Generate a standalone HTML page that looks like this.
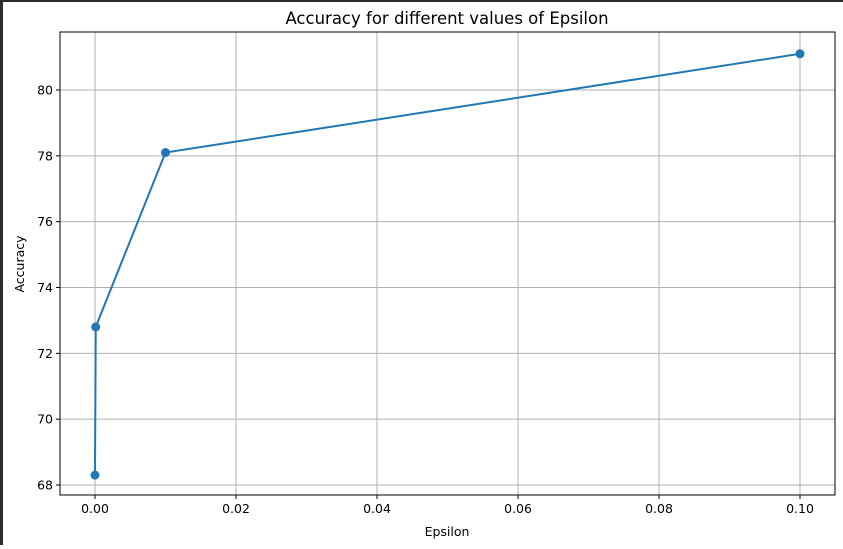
<!DOCTYPE html>
<html><head><meta charset="utf-8"><style>
body{margin:0;width:843px;height:545px;overflow:hidden;background:#fff;font-family:"DejaVu Sans","Liberation Sans",sans-serif}
</style></head><body>
<svg id="c" width="843" height="545" xmlns="http://www.w3.org/2000/svg" font-family="DejaVu Sans, Liberation Sans, sans-serif">
<rect x="0" y="0" width="843" height="545" fill="#fff"/>
<rect x="0" y="0" width="843" height="2" fill="#2b2b2b"/>
<rect x="0" y="0" width="3" height="545" fill="#2b2b2b"/>
<g id="grid"></g>
<g id="series"></g>
<rect x="60" y="32" width="775" height="463" fill="none" stroke="#000" stroke-width="1"/>
<g id="ticks" font-size="12.5" fill="#000"></g>
<text x="447" y="24" text-anchor="middle" font-size="16.5">Accuracy for different values of Epsilon</text>
<text x="447" y="536" text-anchor="middle" font-size="12.5">Epsilon</text>
<text transform="translate(24,264) rotate(-90)" text-anchor="middle" font-size="12.5">Accuracy</text>
</svg>
<script>
const epsilons=[0,0.0001,0.01,0.1];
const accuracies=[68.3,72.8,78.1,81.1];
const xTicks=[0,0.02,0.04,0.06,0.08,0.10];
const xTickLabels=["0.00","0.02","0.04","0.06","0.08","0.10"];
const yTicks=[68,70,72,74,76,78,80];
const yTickLabels=["68","70","72","74","76","78","80"];
const NS="http://www.w3.org/2000/svg";
function sx(v){return 95+(v-0)/0.1*705;}
function sy(v){return 485-(v-68)/12*395;}
function mk(t,a,p){const e=document.createElementNS(NS,t);for(const k in a)e.setAttribute(k,a[k]);p.appendChild(e);return e;}
const grid=document.getElementById('grid'),ticks=document.getElementById('ticks'),ser=document.getElementById('series');
xTicks.forEach((v,i)=>{const x=sx(v);
 const g=mk('line',{x1:x,x2:x,y1:32,y2:495,stroke:'#b0b0b0','stroke-width':1},grid);
 
 
 mk('line',{x1:x,x2:x,y1:495,y2:499,stroke:'#000'},ticks);
 const t=mk('text',{x:x,y:513,'text-anchor':'middle'},ticks);t.textContent=xTickLabels[i];
 
 
});
yTicks.forEach((v,i)=>{const y=sy(v);
 const g=mk('line',{x1:60,x2:835,y1:y,y2:y,stroke:'#b0b0b0','stroke-width':1},grid);
 
 
 mk('line',{x1:56,x2:60,y1:y,y2:y,stroke:'#000'},ticks);
 const t=mk('text',{x:53,y:y+4.5,'text-anchor':'end'},ticks);t.textContent=yTickLabels[i];
 
 
});
const pts=epsilons.map((e,i)=>sx(e)+','+sy(accuracies[i])).join(' ');
const line=mk('polyline',{points:pts,fill:'none',stroke:'#1f77b4','stroke-width':2},ser);


epsilons.forEach((e,i)=>{const c=mk('circle',{cx:sx(e),cy:sy(accuracies[i]),r:4.5,fill:'#1f77b4'},ser);
 
 
});
</script>
</body></html>
